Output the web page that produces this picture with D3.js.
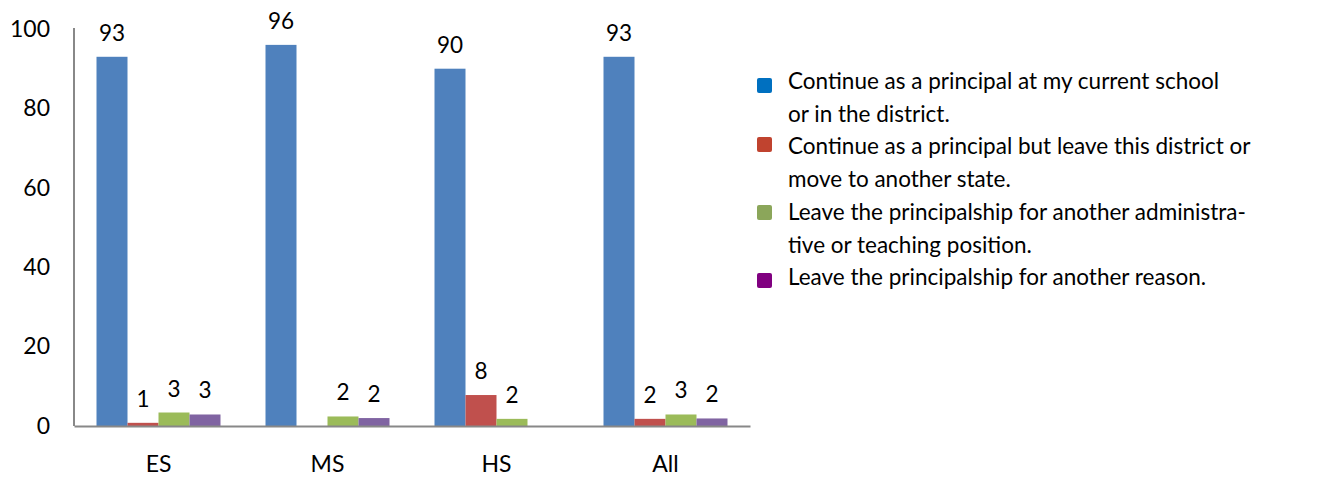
<!DOCTYPE html>
<html>
<head>
<meta charset="utf-8">
<script src="https://cdn.jsdelivr.net/npm/d3@7"></script>
<style>
  body { margin: 0; background: #fff; }
  text { font-family: Lato, "Open Sans", sans-serif; fill: #000; }
</style>
</head>
<body>
<div id="chart"></div>
<script>
//************************************************************************
// data
//************************************************************************
var categories = ["ES", "MS", "HS", "All"];
var seriesNames = [
  ["Continue as a principal at my current school", "or in the district."],
  ["Continue as a principal but leave this district or", "move to another state."],
  ["Leave the principalship for another administra-", "tive or teaching position."],
  ["Leave the principalship for another reason."]
];
// one array per series, values per category (null = no bar)
var stayCurrent   = [93, 96, 90, 93];
var otherDistrict = [0.8, null, 7.8, 1.8];
var otherPosition = [3.4, 2.4, 1.8, 2.9];
var otherReason   = [2.9, 2.0, null, 1.9];
var dataLabels = [
  [93, 96, 90, 93],
  [1, null, 8, 2],
  [3, 2, 2, 3],
  [3, 2, null, 2]
];
var yTicks = [0, 20, 40, 60, 80, 100];

var seriesValues = [stayCurrent, otherDistrict, otherPosition, otherReason];
var barColors = ["#4F81BD", "#C0504D", "#9BBB59", "#8064A2"];
var legendColors = ["#0070C0", "#C0432F", "#8BA65A", "#800080"];

//************************************************************************
// svg
//************************************************************************
var svgWidth = 1331;
var svgHeight = 478;

var svg = d3.select("#chart")
  .append("svg")
  .attr("width", svgWidth)
  .attr("height", svgHeight);

//************************************************************************
// scales
//************************************************************************
var x0 = d3.scaleBand()
  .domain(categories)
  .range([74, 750]);

var x1 = d3.scaleBand()
  .domain(d3.range(seriesValues.length))
  .range([22.5, x0.bandwidth() - 22.5]);

var y = d3.scaleLinear()
  .domain([0, 100])
  .range([426, 29]);

//************************************************************************
// bars
//************************************************************************
categories.forEach(function (cat, ci) {
  var g = svg.append("g").attr("transform", `translate(${x0(cat)},0)`);
  seriesValues.forEach(function (vals, si) {
    var v = vals[ci];
    if (v == null) return;
    g.append("rect")
      .attr("x", x1(si))
      .attr("y", y(v))
      .attr("width", x1.bandwidth())
      .attr("height", y(0) - y(v))
      .attr("fill", barColors[si]);
    var lab = dataLabels[si][ci];
    if (lab != null) {
      g.append("text")
        .attr("x", x1(si) + x1.bandwidth() / 2)
        .attr("y", y(v) - 16)
        .attr("text-anchor", "middle")
        .style("font-size", "22.5px")
        .text(lab);
    }
  });
});

//************************************************************************
// axes
//************************************************************************
var leftAxis = d3.axisLeft(y).tickValues(yTicks).tickSize(0).tickPadding(24);
var yAxis = svg.append("g")
  .attr("transform", "translate(74,0)")
  .call(leftAxis);
yAxis.select(".domain").attr("stroke", "#888").attr("stroke-width", 2)
  .attr("d", "M0,28V426");
yAxis.selectAll("text").style("font-size", "23px");

var bottomAxis = d3.axisBottom(x0).tickSize(0).tickPadding(30);
var xAxis = svg.append("g")
  .attr("transform", "translate(0,426)")
  .call(bottomAxis);
xAxis.select(".domain").attr("stroke", "#888").attr("stroke-width", 2);
xAxis.selectAll("text").style("font-size", "23px");

//************************************************************************
// legend
//************************************************************************
var legend = svg.append("g").attr("transform", "translate(757,0)");
var swatchTop = [78, 137, 205, 273];
var lineIndex = 0;
seriesNames.forEach(function (lines, i) {
  legend.append("rect")
    .attr("x", 0)
    .attr("y", swatchTop[i])
    .attr("width", 15)
    .attr("height", 15)
    .attr("rx", 2)
    .attr("fill", legendColors[i]);
  lines.forEach(function (ln) {
    legend.append("text")
      .attr("x", 31)
      .attr("y", 89 + lineIndex * 32.7)
      .style("font-size", "22.5px")
      .text(ln);
    lineIndex++;
  });
});
</script>
</body>
</html>
